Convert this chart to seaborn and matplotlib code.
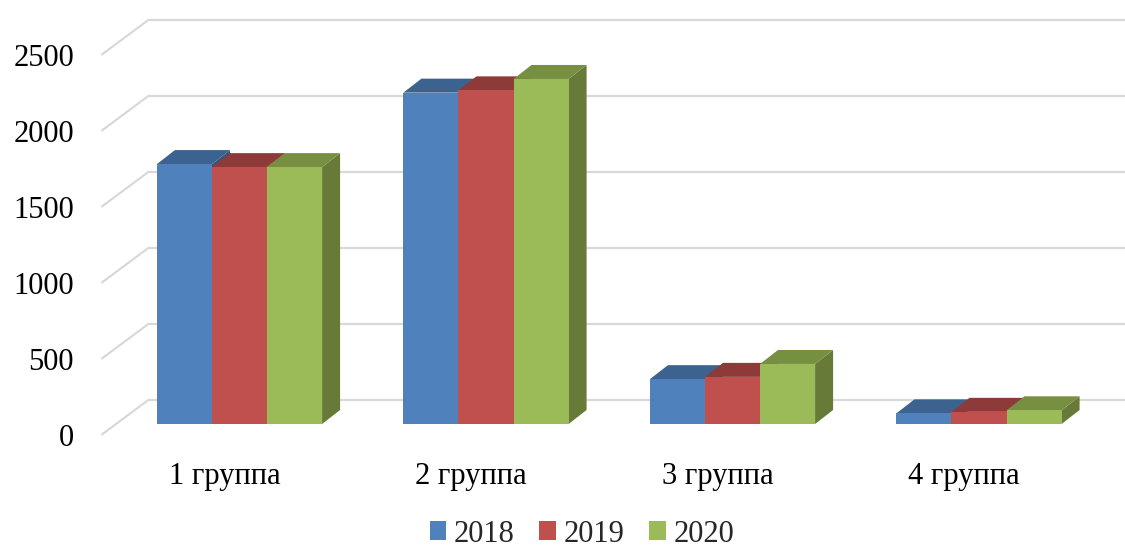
import numpy as np
import pandas as pd
import matplotlib
matplotlib.use("Agg")
import matplotlib.pyplot as plt
from matplotlib.patches import Polygon, Rectangle
import seaborn as sns

# ---- data ----
categories = ["1 группа", "2 группа", "3 группа", "4 группа"]
years = ["2018", "2019", "2020"]
v2018 = [1710, 2180, 295, 70]
v2019 = [1690, 2195, 310, 80]
v2020 = [1690, 2270, 395, 90]
yticks = [0, 500, 1000, 1500, 2000, 2500]

front_colors = ["#4F81BD", "#C0504D", "#9BBB59"]
top_colors = ["#3C6290", "#8E3A38", "#778F41"]
side_colors = ["#35567E", "#7C3331", "#677A37"]

sns.set_theme(style="white")
plt.rcParams["font.family"] = ["Liberation Serif", "DejaVu Serif"]

W, H = 1125, 550
fig = plt.figure(figsize=(W / 100, H / 100), dpi=100)
ax = fig.add_axes([101 / W, 110 / H, 1 - 101 / W, 430 / H])

rows = []
for yr, vals in zip(years, [v2018, v2019, v2020]):
    for c, v in zip(categories, vals):
        rows.append({"group": c, "year": yr, "value": v})
df = pd.DataFrame(rows)

sns.barplot(data=df, x="group", y="value", hue="year", order=categories,
            hue_order=years, palette=front_colors, width=0.67, gap=0,
            saturation=1, errorbar=None, linewidth=0, ax=ax)

# scale (data units per pixel)
XPX = 1 / 246.5
YPX = 1 / 0.152
xmin = -0.5619
xmax = xmin + 1024 * XPX
ymin = -16 * YPX
ymax = ymin + 430 * YPX
ax.set_xlim(xmin, xmax)
ax.set_ylim(ymin, ymax)

# 3D offsets in pixels
FX, FY = -15, -11     # front plane relative to bar fronts
BX, BY = 32, 24       # back wall relative to bar fronts
DX, DY = 18, 14       # bar depth

grid_c = "#D9D9D9"
for v in yticks:
    fx, fy = -0.5 + FX * XPX, v + FY * YPX
    bx, by = -0.5 + BX * XPX, v + BY * YPX
    ax.plot([fx, bx], [fy, by], color=grid_c, lw=1.6, zorder=1,
            solid_capstyle="butt")
    ax.plot([bx, xmax + 1], [by, by], color=grid_c, lw=1.6, zorder=1,
            solid_capstyle="butt")

bars = sorted([p for p in ax.patches if isinstance(p, Rectangle)],
              key=lambda p: p.get_x())
dx, dy = DX * XPX, DY * YPX
for i, p in enumerate(bars):
    j = i % 3
    x0, w, h = p.get_x(), p.get_width(), p.get_height()
    z = 3 + i * 0.01
    side = Polygon([(x0 + w, 0), (x0 + w + dx, dy), (x0 + w + dx, h + dy), (x0 + w, h)],
                   closed=True, facecolor=side_colors[j], edgecolor="none", zorder=z)
    top = Polygon([(x0, h), (x0 + w, h), (x0 + w + dx, h + dy), (x0 + dx, h + dy)],
                  closed=True, facecolor=top_colors[j], edgecolor="none", zorder=z + 0.002)
    ax.add_patch(side)
    ax.add_patch(top)
    p.set_zorder(z + 0.005)

ax.set_yticks([v + FY * YPX for v in yticks], labels=[str(v) for v in yticks])
ax.set_xticks([k + FX * XPX for k in range(len(categories))], labels=categories)
ax.set_xlabel("")
ax.set_ylabel("")
ax.tick_params(axis="y", length=0, pad=19.4, labelsize=22, colors="black")
ax.tick_params(axis="x", length=0, pad=15.5, labelsize=22, colors="black")
for s in ax.spines.values():
    s.set_visible(False)
ax.grid(False)

sns.move_legend(ax, loc="center", bbox_to_anchor=(582 / W, 16 / H),
                bbox_transform=fig.transFigure, ncol=3, frameon=False,
                title=None, fontsize=22, handlelength=0.55, handleheight=0.55,
                handletextpad=0.25, columnspacing=0.8, borderpad=0)

fig.savefig("out.png", dpi=100)
